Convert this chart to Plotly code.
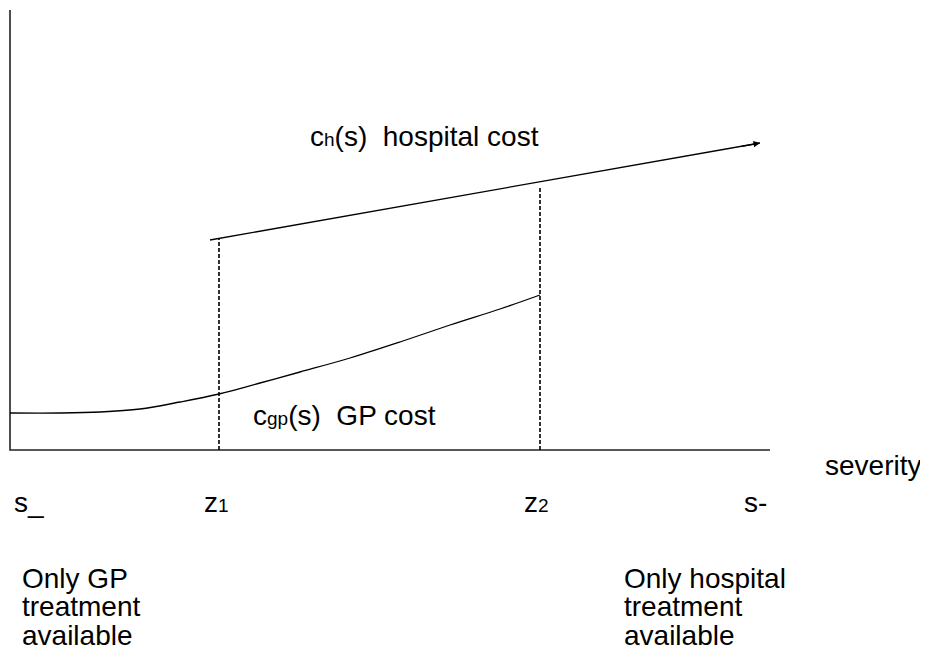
import plotly.graph_objects as go

# Diagram coordinates (severity on x, cost on y; y measured upward)
axis_x0, axis_x1 = 10, 770
axis_y0, axis_y1 = 210, 650

z1 = 219
z2 = 540

gp_x = [10, 60, 100, 140, 180, 219, 260, 300, 350, 400, 450, 500, 540]
gp_cost = [247, 247, 248, 251, 258, 266, 277, 288, 302, 318, 335, 351, 365]

hosp_x = [210, 760]
hosp_cost = [420, 517]

z2_dash_top = 472


def hosp_at(x):
    return hosp_cost[0] + (hosp_cost[1] - hosp_cost[0]) * (x - hosp_x[0]) / (hosp_x[1] - hosp_x[0])


SUB = "<span style='font-size:19px'>{}</span>"
tick_labels = ["s_", "z" + SUB.format("1"), "z" + SUB.format("2"), "s-"]
tick_pos = [12, 202, 522, 742]

FONT = "Liberation Sans, Arial, sans-serif"
FS = 28

fig = go.Figure()
# axes
fig.add_trace(go.Scatter(x=[axis_x0, axis_x0, axis_x1], y=[axis_y1, axis_y0, axis_y0],
                         mode="lines", line=dict(color="#222", width=1.6), hoverinfo="skip"))
# dashed verticals
fig.add_trace(go.Scatter(x=[z1, z1], y=[axis_y0, hosp_at(z1)], mode="lines",
                         line=dict(color="#000", width=1.6, dash="4px,2px"), hoverinfo="skip"))
fig.add_trace(go.Scatter(x=[z2, z2], y=[axis_y0, z2_dash_top], mode="lines",
                         line=dict(color="#000", width=1.6, dash="4px,2px"), hoverinfo="skip"))
# GP cost
fig.add_trace(go.Scatter(x=gp_x, y=gp_cost, mode="lines", line=dict(color="#000", width=1.3, shape="spline"),
                         hoverinfo="skip"))
# hospital cost
fig.add_trace(go.Scatter(x=hosp_x, y=hosp_cost, mode="lines", line=dict(color="#000", width=1.3),
                         hoverinfo="skip"))

annotations = []
# arrow head
annotations.append(dict(x=hosp_x[1], y=hosp_cost[1], ax=hosp_x[1] - 20, ay=hosp_at(hosp_x[1] - 20),
                        xref="x", yref="y", axref="x", ayref="y", showarrow=True, arrowhead=2,
                        arrowsize=1, arrowwidth=1.3, arrowcolor="#000", text="", standoff=0))


def txt(x, y_px, t, anchor="left", size=FS):
    annotations.append(dict(x=x, y=660 - y_px, xref="x", yref="y", text=t, showarrow=False,
                            xanchor=anchor, yanchor="middle",
                            font=dict(family=FONT, size=size, color="#000")))


txt(541, 136, "c" + SUB.format("h") + "(s)  hospital cost", anchor="right")
txt(251, 415, "c" + SUB.format("gp") + "(s)  GP cost")
txt(823, 465, "severity")
for p, l in zip(tick_pos, tick_labels):
    txt(p, 502, l)
for i, line in enumerate(["Only GP", "treatment", "available"]):
    txt(20, 578 + 28.5 * i, line)
for i, line in enumerate(["Only hospital", "treatment", "available"]):
    txt(622, 578 + 28.5 * i, line)

fig.update_layout(
    width=928, height=660, margin=dict(l=0, r=0, t=0, b=0),
    plot_bgcolor="white", paper_bgcolor="white", showlegend=False,
    xaxis=dict(range=[8, 936], visible=False, fixedrange=True),
    yaxis=dict(range=[-8, 652], visible=False, fixedrange=True),
    annotations=annotations,
)
fig.write_html("out.html")
